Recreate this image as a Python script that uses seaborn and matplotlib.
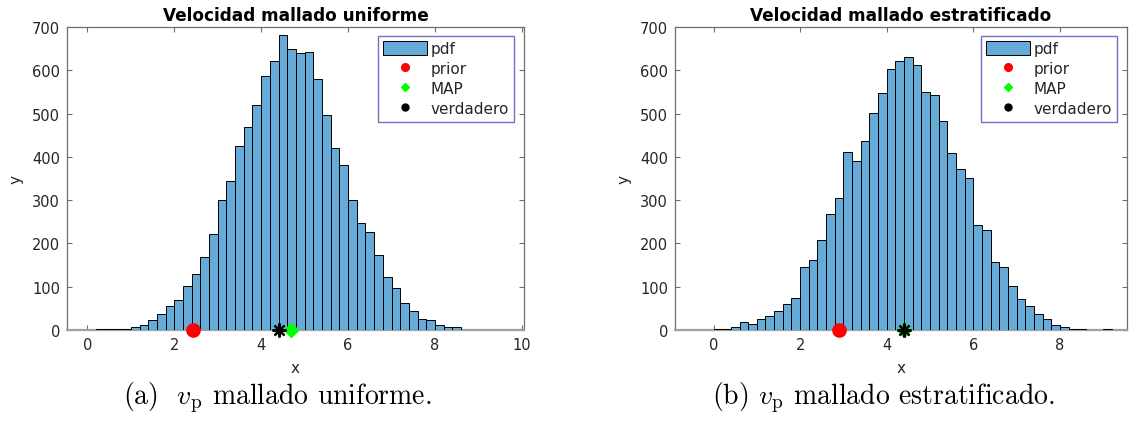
import numpy as np
import pandas as pd
import matplotlib
matplotlib.use("Agg")
import matplotlib.pyplot as plt
import seaborn as sns
from matplotlib.lines import Line2D
from matplotlib.patches import Patch

# ---- histogram data (bin width 0.2) ----
bin_width = 0.2

uniforme_start = 0.2
uniforme_counts = [2, 3, 2, 3, 8, 11, 24, 36, 56, 70, 102, 130, 168, 221, 301, 345,
                   425, 469, 520, 586, 622, 682, 649, 640, 642, 581, 497, 421, 382,
                   300, 248, 227, 174, 123, 97, 63, 45, 26, 22, 12, 6, 6]

estrat_start = 0.0
estrat_counts = [2, 3, 8, 19, 15, 25, 32, 43, 61, 75, 146, 162, 209, 268, 305, 412,
                 391, 437, 502, 548, 603, 621, 630, 612, 550, 543, 483, 408, 372,
                 352, 242, 232, 158, 146, 101, 71, 55, 36, 25, 12, 7, 3, 3, 0, 1, 3]

# point estimates
uniforme_prior, uniforme_map, uniforme_true = 2.42, 4.68, 4.41
estrat_prior, estrat_map, estrat_true = 2.90, 4.41, 4.41

titles = ["Velocidad mallado uniforme", "Velocidad mallado estratificado"]
captions = [r"(a)  $v_\mathrm{p}$ mallado uniforme.", r"(b) $v_\mathrm{p}$ mallado estratificado."]
legend_labels = ["pdf", "prior", "MAP", "verdadero"]
y_ticks = [0, 100, 200, 300, 400, 500, 600, 700]

sns.set_style("ticks")
plt.rcParams["font.family"] = ["DejaVu Sans"]
plt.rcParams["mathtext.fontset"] = "cm"

bar_color = "#66AAD8"
axis_color = "#6e6e6e"
text_color = "#262626"

fig = plt.figure(figsize=(11.29, 4.27), dpi=100)
W, H = 1129, 427
ax_boxes = [(67, 28, 524, 331), (675, 28, 1127, 331)]
xlims = [(-0.47, 10.05), (-0.89, 9.55)]
xticks = [[0, 2, 4, 6, 8, 10], [0, 2, 4, 6, 8]]

series = [
    (uniforme_start, uniforme_counts, uniforme_prior, uniforme_map, uniforme_true),
    (estrat_start, estrat_counts, estrat_prior, estrat_map, estrat_true),
]

asterisk = (8, 2, 0)

for i, (start, counts, prior, vmap, vtrue) in enumerate(series):
    l, t, r, b = ax_boxes[i]
    ax = fig.add_axes([l / W, 1 - b / H, (r - l) / W, (b - t) / H])

    n = len(counts)
    centers = start + bin_width * (np.arange(n) + 0.5)
    df = pd.DataFrame({"v": centers, "count": counts})
    sns.histplot(data=df, x="v", weights="count", binwidth=bin_width,
                 binrange=(start, start + bin_width * n), ax=ax, color=bar_color,
                 alpha=1, edgecolor="black", linewidth=0.7, zorder=3)

    ax.plot([prior], [0], linestyle="none", marker="o", markersize=9.5,
            color="#ff0000", clip_on=False, zorder=5)
    ax.plot([vmap], [0], linestyle="none", marker="D", markersize=7,
            color="#00ff00", clip_on=False, zorder=6)
    ax.plot([vtrue], [0], linestyle="none", marker=asterisk, markersize=10,
            markeredgewidth=1.6, color="black", clip_on=False, zorder=7)

    ax.set_xlim(*xlims[i])
    ax.set_ylim(0, 700)
    ax.set_xticks(xticks[i])
    ax.set_yticks(y_ticks)
    ax.tick_params(direction="in", top=True, right=True, length=3.5, width=0.8,
                   colors=axis_color, labelcolor=text_color, labelsize=10.5, pad=5)
    for s in ax.spines.values():
        s.set_visible(True)
        s.set_color(axis_color)
        s.set_linewidth(0.9)
    ax.spines["bottom"].set_color("#a0a0a0")
    ax.spines["bottom"].set_linewidth(1.6)

    ax.set_xlabel("x", fontsize=11, color=text_color, labelpad=6)
    ax.set_ylabel("y", fontsize=11, color=text_color, labelpad=6)
    ax.set_title(titles[i], fontsize=12.2, fontweight="bold", color="black", pad=5)

    handles = [
        Patch(facecolor=bar_color, edgecolor="black", linewidth=0.7),
        Line2D([], [], linestyle="none", marker="o", markersize=5.5, color="#ff0000"),
        Line2D([], [], linestyle="none", marker="D", markersize=4.5, color="#00ff00"),
        Line2D([], [], linestyle="none", marker="o", markersize=5, color="black"),
    ]
    leg = ax.legend(handles, legend_labels, loc="upper right",
                    bbox_to_anchor=(1 - 10 / (r - l), 1 - 9 / (b - t)),
                    borderaxespad=0, fontsize=11, handlelength=2.9, handleheight=1.0,
                    handletextpad=0.2, labelspacing=0.32, borderpad=0.35,
                    frameon=True, fancybox=False, framealpha=1)
    leg.get_frame().set_edgecolor("#7272c4")
    leg.get_frame().set_linewidth(1.0)
    leg.set_zorder(10)

    fig.text(((l + r) / 2 - 18) / W, 1 - 398 / H, captions[i], fontsize=20,
             family="cmr10", ha="center", va="center", color="black")

fig.savefig("out.png", dpi=100, facecolor="white")
